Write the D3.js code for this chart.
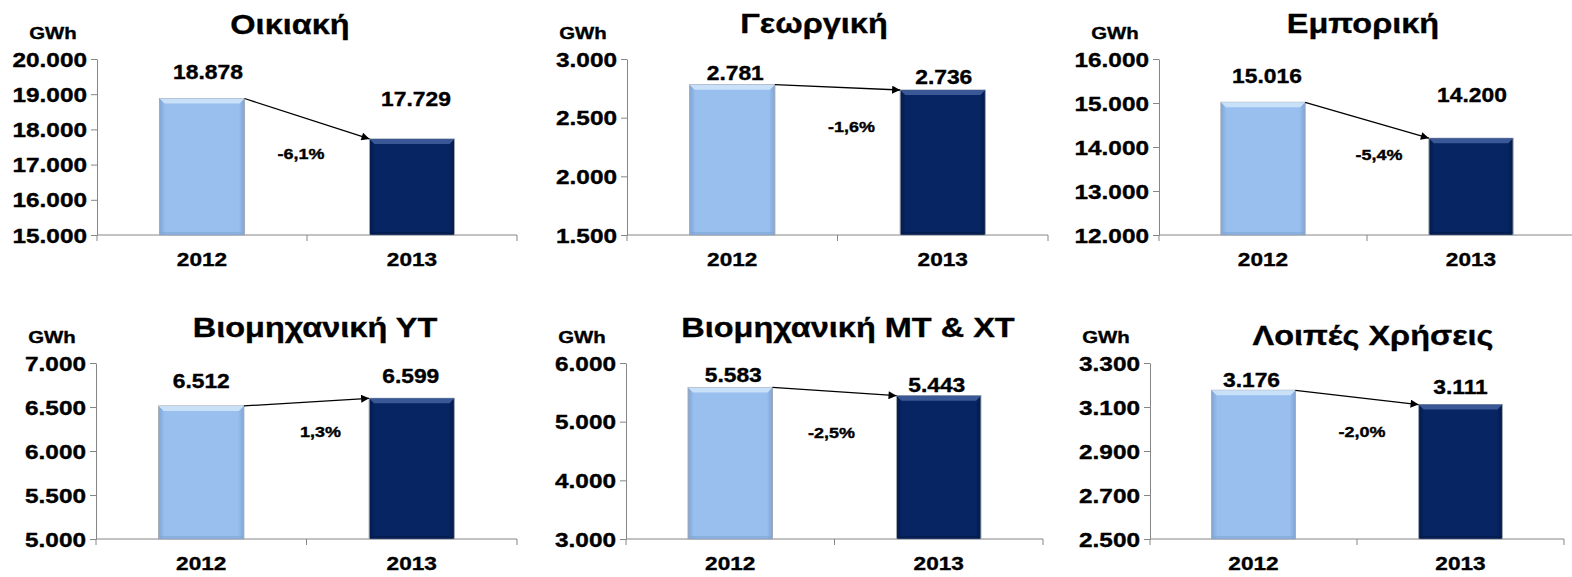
<!DOCTYPE html>
<html>
<head>
<meta charset="utf-8">
<script src="https://cdn.jsdelivr.net/npm/d3@7"></script>
<style>
 body { margin:0; background:#fff; }
 text { font-family: "Liberation Sans", Arial, sans-serif; font-weight:bold; fill:#000; stroke:#000; stroke-width:0.35px; }
</style>
</head>
<body>
<script>
// chart data
var titles = ["Οικιακή", "Γεωργική", "Εμπορική", "Βιομηχανική ΥΤ", "Βιομηχανική ΜΤ & ΧΤ", "Λοιπές Χρήσεις"];
var years = ["2012", "2013"];
var values2012 = [18878, 2781, 15016, 6512, 5583, 3176];
var values2013 = [17729, 2736, 14200, 6599, 5443, 3111];
var changeLabels = ["-6,1%", "-1,6%", "-5,4%", "1,3%", "-2,5%", "-2,0%"];
var yMin = [15000, 1500, 12000, 5000, 3000, 2500];
var yMax = [20000, 3000, 16000, 7000, 6000, 3300];
var yStep = [1000, 500, 1000, 500, 1000, 200];
var unitLabel = "GWh";

// panel placement (layout only)
var panels = [
 {left:97,  right:517,  top:59,  bottom:235, tx:290,  ty:34,  lab:[-19,-33], labx:[6,4],  pct:[-6,100]},
 {left:627, right:1048, top:59,  bottom:235, tx:814,  ty:33,  lab:[-5,-6],   labx:[3,1],  pct:[14,73]},
 {left:1159,right:1575, top:59,  bottom:235, tx:1363, ty:33,  lab:[-19,-36], labx:[4,1],  pct:[12,101]},
 {left:96,  right:517,  top:363, bottom:539, tx:315,  ty:337, lab:[-18,-15], labx:[0,-1], pct:[14,74]},
 {left:626, right:1043, top:363, bottom:539, tx:848,  ty:337, lab:[-5,-4],   labx:[3,-2], pct:[-3,75]},
 {left:1150,right:1564, top:363, bottom:539, tx:1373, ty:345, lab:[-3,-11],  labx:[-2,0], pct:[5,74]}
];

var barColors = ["#98bfee", "#072563"];
var bevelColors = ["#c9e0f9", "#3b5896"];
var edgeColors = ["#7fa5d6", "#031a4a"];
var axisColor = "#868686";

var locale = d3.formatLocale({decimal:",", thousands:".", grouping:[3], currency:["",""]});
var fmt = locale.format(",");

var svg = d3.select("body").append("svg")
 .attr("width", 1572).attr("height", 577);

var defs = svg.append("defs");
barColors.forEach(function(c, i) {
 var g = defs.append("linearGradient").attr("id", "grad" + i)
  .attr("x1", 0).attr("x2", 1).attr("y1", 0).attr("y2", 0);
 g.append("stop").attr("offset", 0).attr("stop-color", edgeColors[i]);
 g.append("stop").attr("offset", 0.07).attr("stop-color", c);
 g.append("stop").attr("offset", 0.93).attr("stop-color", c);
 g.append("stop").attr("offset", 1).attr("stop-color", edgeColors[i]);
});
defs.append("marker").attr("id", "arrow")
 .attr("viewBox", "0 0 10 10").attr("refX", 10).attr("refY", 5)
 .attr("markerWidth", 10).attr("markerHeight", 8).attr("markerUnits", "userSpaceOnUse")
 .attr("orient", "auto")
 .append("path").attr("d", "M0,0 L10,5 L0,10 z").attr("fill", "#000");

// stretched text helper (source picture is wider than the font)
function sText(g, x, y, str, size, k, anchor) {
 return g.append("text")
  .attr("transform", "translate(" + x + "," + y + ") scale(" + k + ",1)")
  .attr("text-anchor", anchor || "middle")
  .attr("font-size", size)
  .text(str);
}

panels.forEach(function(p, i) {
 var g = svg.append("g");
 var vals = [values2012[i], values2013[i]];

 var x = d3.scaleBand().domain(years).range([p.left, p.right]).padding(0);
 var y = d3.scaleLinear().domain([yMin[i], yMax[i]]).range([p.bottom, p.top]);
 var bw = x.bandwidth() * 0.405;

 // y axis
 var ya = g.append("g").attr("transform", "translate(" + p.left + ",0)")
  .call(d3.axisLeft(y).tickValues(d3.range(yMin[i], yMax[i] + yStep[i] / 2, yStep[i]))
   .tickSize(6).tickSizeOuter(0).tickFormat(fmt));
 ya.select(".domain").attr("stroke", axisColor);
 ya.selectAll(".tick line").attr("stroke", axisColor);
 ya.selectAll(".tick text")
  .attr("x", 0).attr("dy", null)
  .attr("transform", "translate(-10,7) scale(1.25,1)")
  .attr("font-size", 19.5).attr("font-family", null).attr("fill", "#000");

 // x axis: line, ticks at category boundaries, labels at centres
 var xa = g.append("g").attr("transform", "translate(0," + p.bottom + ")");
 xa.append("line").attr("x1", p.left).attr("x2", p.right)
  .attr("stroke", axisColor).attr("stroke-width", 1);
 var bounds = years.map(function(d) { return x(d); }).concat([x.range()[1]]);
 xa.selectAll(".bt").data(bounds).enter().append("line").attr("class", "bt")
  .attr("x1", function(d) { return d; }).attr("x2", function(d) { return d; })
  .attr("y1", 0).attr("y2", 6).attr("stroke", axisColor);
 years.forEach(function(yr) {
  sText(xa, x(yr) + x.bandwidth() / 2, 31, yr, 19, 1.19);
 });

 // bars
 vals.forEach(function(v, j) {
  var x0 = x(years[j]) + (x.bandwidth() - bw) / 2;
  var y0 = y(v);
  var h = p.bottom - y0;
  g.append("rect").attr("x", x0).attr("y", y0).attr("width", bw).attr("height", h)
   .attr("fill", "url(#grad" + j + ")").attr("stroke", "#a3a9b3").attr("stroke-width", 1);
  g.append("path")
   .attr("d", "M" + x0 + "," + y0 + " L" + (x0 + bw) + "," + y0 + " L" + (x0 + bw - 5) + "," + (y0 + 5) +
        " L" + (x0 + 5) + "," + (y0 + 5) + " Z")
   .attr("fill", bevelColors[j]);
  g.append("rect").attr("x", x0 + 1).attr("y", p.bottom - 3).attr("width", bw - 2).attr("height", 3)
   .attr("fill", edgeColors[j]).attr("opacity", 0.6);
  sText(g, x0 + bw / 2 + p.labx[j], y0 + p.lab[j], fmt(v), 19.5, 1.17);
 });

 // arrow between bar tops
 var ax0 = x(years[0]) + (x.bandwidth() + bw) / 2;
 var ax1 = x(years[1]) + (x.bandwidth() - bw) / 2;
 g.append("line")
  .attr("x1", ax0).attr("y1", y(vals[0]))
  .attr("x2", ax1).attr("y2", y(vals[1]))
  .attr("stroke", "#000").attr("stroke-width", 1.3)
  .attr("marker-end", "url(#arrow)");

 sText(g, x(years[1]) + p.pct[0], p.top + p.pct[1], changeLabels[i], 14.5, 1.24);

 // title and unit
 sText(g, p.tx, p.ty, titles[i], 28, 1.16);
 sText(g, p.left - 44, p.top - 20, unitLabel, 17, 1.2);
});
</script>
</body>
</html>
